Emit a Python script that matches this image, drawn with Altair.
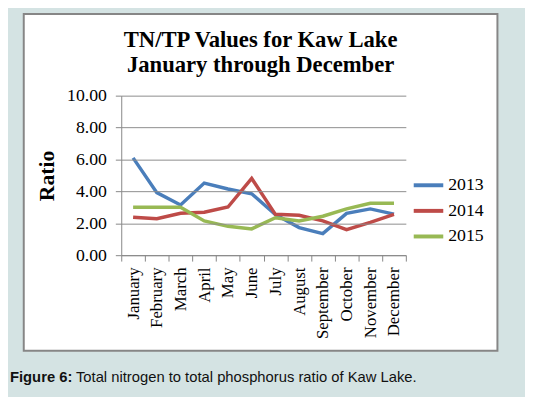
import altair as alt
import pandas as pd

months = ["January", "February", "March", "April", "May", "June", "July",
          "August", "September", "October", "November", "December"]
years = ["2013", "2014", "2015"]
v2013 = [6.10, 3.92, 3.15, 4.52, 4.15, 3.85, 2.55, 1.73, 1.35, 2.62, 2.90, 2.57]
v2014 = [2.38, 2.29, 2.63, 2.69, 3.02, 4.81, 2.56, 2.50, 2.15, 1.60, 2.06, 2.56]
v2015 = [3.00, 3.00, 3.00, 2.15, 1.81, 1.65, 2.35, 2.15, 2.44, 2.90, 3.25, 3.25]
colors = ["#4a7ebb", "#be4b48", "#98b954"]
y_ticks = [0, 2, 4, 6, 8, 10]

rows = []
for yr, vals in zip(years, [v2013, v2014, v2015]):
    for m, v in zip(months, vals):
        rows.append({"Month": m, "Year": yr, "Ratio": v})
df = pd.DataFrame(rows)

SERIF = "Liberation Serif"
SANS = "Liberation Sans"
one = alt.Data(values=[{}])

box = alt.Chart(one).mark_rect(fill="white", stroke="#868686", strokeWidth=2).encode(
    x=alt.value(-99), x2=alt.value(382), y=alt.value(-83), y2=alt.value(259)
)

lines = alt.Chart(df).mark_line(strokeWidth=3.5).encode(
    x=alt.X("Month:N", sort=months, title=None,
            scale=alt.Scale(paddingInner=0, paddingOuter=0),
            axis=alt.Axis(labelAngle=270, labelAlign="right", labelBaseline="middle",
                          labelFont=SERIF, labelFontSize=17, labelColor="black",
                          labelPadding=6, tickSize=6, tickBand="extent",
                          tickColor="#868686", domainColor="#868686", grid=False,
                          zindex=1)),
    y=alt.Y("Ratio:Q", title="Ratio",
            scale=alt.Scale(domain=[0, 10], nice=False),
            axis=alt.Axis(values=y_ticks, format=".2f", labelFont=SERIF,
                          labelFontSize=18, labelColor="black", labelPadding=9,
                          tickSize=6, tickColor="#868686", domainColor="#868686",
                          gridColor="#8c8c8c", titleFont=SERIF, titleFontSize=22,
                          titleFontWeight="bold", titleColor="black", titlePadding=8,
                          zindex=1)),
    color=alt.Color("Year:N", scale=alt.Scale(domain=years, range=colors),
                    legend=alt.Legend(title=None, orient="none", legendX=295, legendY=74,
                                      symbolType="stroke", symbolSize=900,
                                      symbolStrokeWidth=4, labelFont=SERIF,
                                      labelFontSize=18, labelColor="black",
                                      labelOffset=3, rowPadding=-3))
)

cap_bold = alt.Chart(one).mark_text(text="Figure 6:", font=SANS, fontSize=15,
                                     fontWeight="bold", align="left",
                                     baseline="alphabetic", color="#111").encode(
    x=alt.value(-113), y=alt.value(291))
cap_text = alt.Chart(one).mark_text(
    text="Total nitrogen to total phosphorus ratio of Kaw Lake.", font=SANS,
    fontSize=15, align="left", baseline="alphabetic", color="#111").encode(
    x=alt.value(-46), y=alt.value(291))

chart = alt.layer(box, lines, cap_bold, cap_text).properties(
    width=289, height=162,
    autosize=alt.AutoSizeParams(type="none"),
    padding={"left": 115, "top": 86, "right": 121, "bottom": 141},
    background="#d4e3e3",
    title=alt.TitleParams(text=["TN/TP Values for Kaw Lake", "January through December"],
                          font=SERIF, fontSize=23, fontWeight="bold", color="black",
                          anchor="middle", lineHeight=25, offset=14, dx=-3, dy=79),
).configure_view(strokeWidth=0)

chart.save("out.html", embed_options={"renderer": "svg", "actions": False})
